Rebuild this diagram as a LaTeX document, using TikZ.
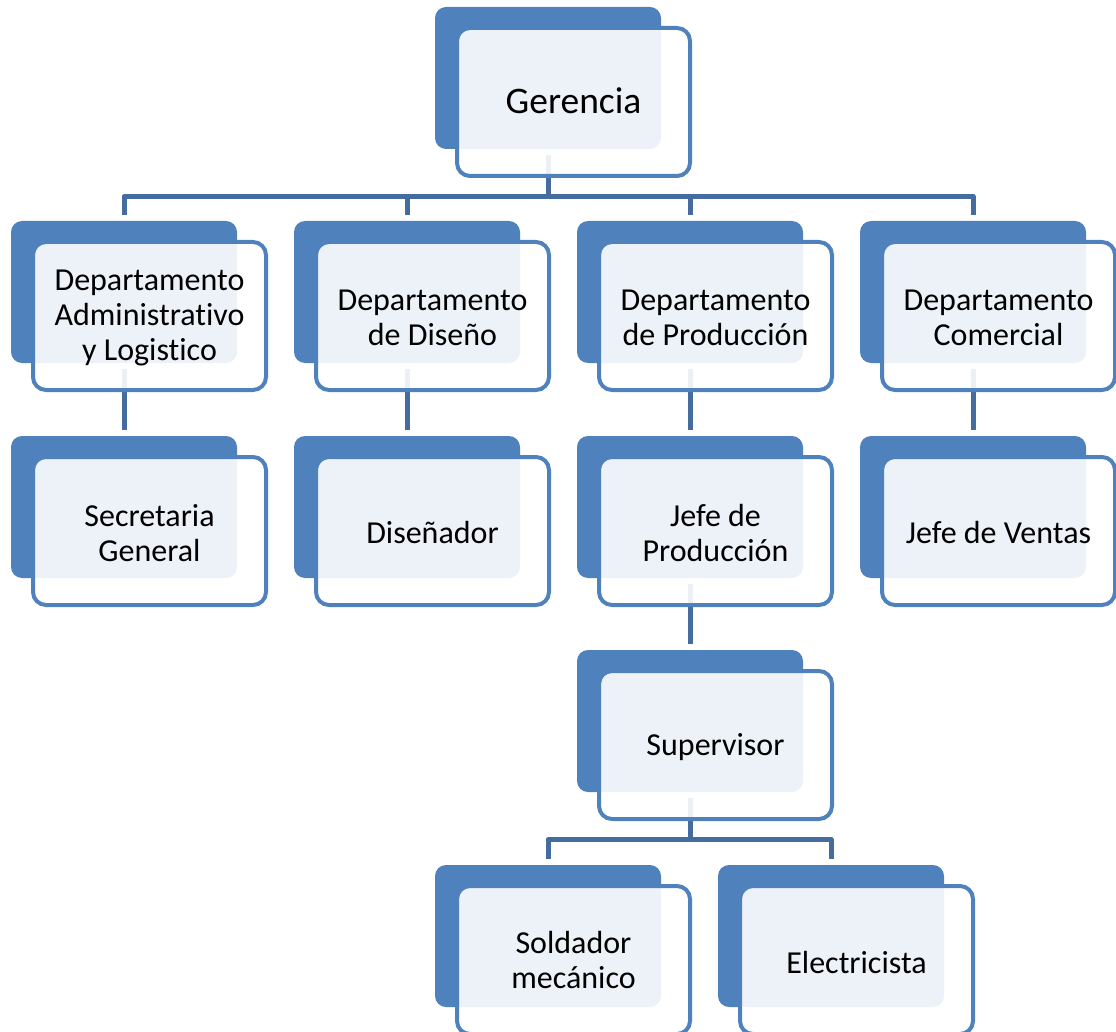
\documentclass[tikz,border=0pt]{standalone}
\usepackage{fontspec}
\setmainfont[Ligatures={NoCommon}]{Carlito}
\usetikzlibrary{calc}
\pgfdeclarelayer{connlayer}
\pgfsetlayers{connlayer,main}
\definecolor{accent}{HTML}{4F81BD}
\definecolor{connc}{HTML}{456C9E}
\tikzset{
  backbox/.style={fill=accent, draw=none, rounded corners=11pt, minimum width=226pt, minimum height=142pt, inner sep=0pt},
  frontbox/.style={fill=white, fill opacity=0.9, draw=accent, draw opacity=1, line width=4pt, rounded corners=13pt, minimum width=233pt, minimum height=148pt, inner sep=0pt},
  lbl/.style={inner sep=0pt, align=center, font=\fontsize{32pt}{35pt}\selectfont, text=black},
  bigtext/.style={font=\fontsize{37.5pt}{43pt}\selectfont},
  conn/.style={draw=connc, line width=5pt, line join=round}
}
\begin{document}
\begin{tikzpicture}[x=1pt,y=-1pt]
\useasboundingbox (0,0) rectangle (1116,1032);
\coordinate (bus1) at (0,196.5);
\coordinate (bus2) at (0,839.5);
% back boxes (back centre = (bx+113, by+71)); front centre = (bx+138.5, by+95)
\node[backbox] (gb) at (548,78) {};
\node[frontbox] (g) at (573.5,102) {};
\node[lbl,bigtext] (gt) at ([yshift=1pt]g.center) {Gerencia};
\node[backbox] (d1b) at (124,292) {};
\node[frontbox] (d1) at (149.5,316) {};
\node[lbl] (d1t) at ([yshift=-2pt]d1.center) {Departamento\\Administrativo\\y Logistico};
\node[backbox] (d2b) at (407,292) {};
\node[frontbox] (d2) at (432.5,316) {};
\node[lbl] (d2t) at ([yshift=-2pt]d2.center) {Departamento\\de Diseño};
\node[backbox] (d3b) at (690,292) {};
\node[frontbox] (d3) at (715.5,316) {};
\node[lbl] (d3t) at ([yshift=-2pt]d3.center) {Departamento\\de Producción};
\node[backbox] (d4b) at (973,292) {};
\node[frontbox] (d4) at (998.5,316) {};
\node[lbl] (d4t) at ([yshift=-2pt]d4.center) {Departamento\\Comercial};
\node[backbox] (s1b) at (124,507) {};
\node[frontbox] (s1) at (149.5,531) {};
\node[lbl] (s1t) at ([yshift=-2pt]s1.center) {Secretaria\\General};
\node[backbox] (s2b) at (407,507) {};
\node[frontbox] (s2) at (432.5,531) {};
\node[lbl] (s2t) at ([yshift=-2pt]s2.center) {Diseñador};
\node[backbox] (s3b) at (690,507) {};
\node[frontbox] (s3) at (715.5,531) {};
\node[lbl] (s3t) at ([yshift=-2pt]s3.center) {Jefe de\\Producción};
\node[backbox] (s4b) at (973,507) {};
\node[frontbox] (s4) at (998.5,531) {};
\node[lbl] (s4t) at ([yshift=-2pt]s4.center) {Jefe de Ventas};
\node[backbox] (supb) at (690,721) {};
\node[frontbox] (sup) at (715.5,745) {};
\node[lbl] (supt) at ([yshift=-2pt]sup.center) {Supervisor};
\node[backbox] (w1b) at (548,936) {};
\node[frontbox] (w1) at (573.5,960) {};
\node[lbl] (w1t) at (w1.center) {Soldador\\mecánico};
\node[backbox] (w2b) at (831,936) {};
\node[frontbox] (w2) at (856.5,960) {};
\node[lbl] (w2t) at ([yshift=-2pt]w2.center) {Electricista};
% connectors, behind the boxes
\begin{pgfonlayer}{connlayer}
\foreach \c in {d1b,d2b,d3b,d4b}
  \draw[conn] ([yshift=-6pt]gb.south) -- (gb.south |- bus1) -| ([yshift=6pt]\c.north);
\foreach \p/\c in {d1b/s1b,d2b/s2b,d3b/s3b,d4b/s4b,s3b/supb}
  \draw[conn] ([yshift=-6pt]\p.south) -- ([yshift=6pt]\c.north);
\foreach \c in {w1b,w2b}
  \draw[conn] ([yshift=-6pt]supb.south) -- (supb.south |- bus2) -| ([yshift=6pt]\c.north);
\end{pgfonlayer}
\end{tikzpicture}
\end{document}
